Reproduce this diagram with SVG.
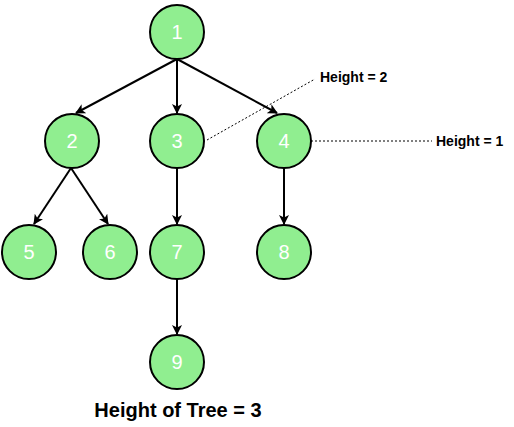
<svg xmlns="http://www.w3.org/2000/svg" width="514" height="427" viewBox="0 0 514 427">
<defs>
<marker id="arr" viewBox="0 0 10 10" refX="9" refY="5" markerWidth="10" markerHeight="10" markerUnits="userSpaceOnUse" orient="auto">
<path d="M0,0 L10,5 L0,10 L2.5,5 Z" fill="#000"/>
</marker>
<style>
.node circle{fill:#90EE90;stroke:#000;stroke-width:2}
.node text{fill:#fff;font-family:"Liberation Sans",Arial,sans-serif;font-size:20px;text-anchor:middle}
.edge{stroke:#000;stroke-width:2;fill:none;marker-end:url(#arr)}
.dot{stroke:#000;stroke-width:1;stroke-dasharray:2 2;fill:none}
.lbl{font-family:"Liberation Sans",Arial,sans-serif;font-weight:bold;font-size:14px;fill:#000}
</style>
</defs>
<rect width="514" height="427" fill="#fff"/>
<g id="connectors">
<path class="edge" d="M177,59 L76,113"/>
<path class="edge" d="M177,59 L177,113"/>
<path class="edge" d="M177,59 L277,113"/>
<path class="edge" d="M71,168 L34,224"/>
<path class="edge" d="M71,168 L108,224"/>
<path class="edge" d="M177,168 L177,224"/>
<path class="edge" d="M284,168 L284,224"/>
<path class="edge" d="M177,279 L177,334"/>
<path class="dot" d="M207,140 L315,79"/>
<path class="dot" d="M311,141 L432,141"/>
</g>
<g id="n1" class="node"><circle cx="177" cy="32" r="27"/><text x="177" y="39">1</text></g>
<g id="n2" class="node"><circle cx="72" cy="141" r="27"/><text x="72" y="148">2</text></g>
<g id="n3" class="node"><circle cx="177" cy="141" r="27"/><text x="177" y="148">3</text></g>
<g id="n4" class="node"><circle cx="284" cy="141" r="27"/><text x="284" y="148">4</text></g>
<g id="n5" class="node"><circle cx="29" cy="252" r="27"/><text x="29" y="259">5</text></g>
<g id="n6" class="node"><circle cx="110" cy="252" r="27"/><text x="110" y="259">6</text></g>
<g id="n7" class="node"><circle cx="177" cy="252" r="27"/><text x="177" y="259">7</text></g>
<g id="n8" class="node"><circle cx="284" cy="252" r="27"/><text x="284" y="259">8</text></g>
<g id="n9" class="node"><circle cx="177" cy="362" r="27"/><text x="177" y="369">9</text></g>
<g id="label-h2"><text class="lbl" x="320" y="82">Height = 2</text></g>
<g id="label-h1"><text class="lbl" x="436" y="146">Height = 1</text></g>
<g id="title"><text x="178" y="417" text-anchor="middle" style="font-family:'Liberation Sans',Arial,sans-serif;font-weight:bold;font-size:20px;fill:#000">Height of Tree = 3</text></g>
</svg>
